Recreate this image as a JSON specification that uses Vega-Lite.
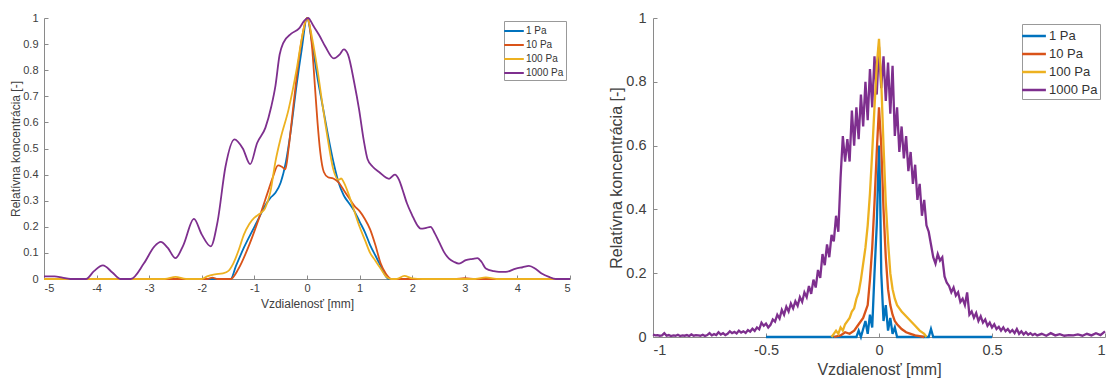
{
  "$schema": "https://vega.github.io/schema/vega-lite/v6.json",
  "padding": {"left": 9, "top": 10, "right": 4, "bottom": 0},
  "background": "white",
  "config": {
    "font": "Liberation Sans",
    "view": {"stroke": null},
    "axis": {
      "grid": false,
      "domainColor": "#8a8a8a",
      "tickColor": "#8a8a8a",
      "labelColor": "#404040",
      "titleColor": "#404040",
      "labelFont": "Liberation Sans",
      "titleFont": "Liberation Sans",
      "titleFontWeight": "normal",
      "tickSize": -4
    },
    "legend": {"labelFont": "Liberation Sans", "labelColor": "#333333"}
  },
  "spacing": 34,
  "resolve": {"scale": {"color": "independent", "x": "independent", "y": "independent"}, "legend": {"color": "independent"}},
  "datasets": {
    "left": [
      {"s":"1 Pa","x":-5,"y":0},{"s":"1 Pa","x":-1.45,"y":0},{"s":"1 Pa","x":-1.35,"y":0.05},{"s":"1 Pa","x":-1.2,"y":0.12},{"s":"1 Pa","x":-1.0,"y":0.2},{"s":"1 Pa","x":-0.9,"y":0.24},{"s":"1 Pa","x":-0.8,"y":0.28},{"s":"1 Pa","x":-0.7,"y":0.31},{"s":"1 Pa","x":-0.6,"y":0.33},{"s":"1 Pa","x":-0.5,"y":0.37},{"s":"1 Pa","x":-0.4,"y":0.45},{"s":"1 Pa","x":-0.3,"y":0.58},{"s":"1 Pa","x":-0.2,"y":0.74},{"s":"1 Pa","x":-0.1,"y":0.88},{"s":"1 Pa","x":0,"y":1},{"s":"1 Pa","x":0.1,"y":0.9},{"s":"1 Pa","x":0.2,"y":0.77},{"s":"1 Pa","x":0.3,"y":0.66},{"s":"1 Pa","x":0.4,"y":0.55},{"s":"1 Pa","x":0.5,"y":0.45},{"s":"1 Pa","x":0.6,"y":0.37},{"s":"1 Pa","x":0.7,"y":0.32},{"s":"1 Pa","x":0.8,"y":0.29},{"s":"1 Pa","x":0.9,"y":0.26},{"s":"1 Pa","x":1.0,"y":0.22},{"s":"1 Pa","x":1.1,"y":0.18},{"s":"1 Pa","x":1.2,"y":0.13},{"s":"1 Pa","x":1.3,"y":0.09},{"s":"1 Pa","x":1.4,"y":0.05},{"s":"1 Pa","x":1.5,"y":0.01},{"s":"1 Pa","x":1.55,"y":0},{"s":"1 Pa","x":5,"y":0},
      {"s":"10 Pa","x":-5,"y":0},{"s":"10 Pa","x":-1.9,"y":0},{"s":"10 Pa","x":-1.8,"y":0.005},{"s":"10 Pa","x":-1.7,"y":0},{"s":"10 Pa","x":-1.45,"y":0},{"s":"10 Pa","x":-1.3,"y":0.04},{"s":"10 Pa","x":-1.1,"y":0.13},{"s":"10 Pa","x":-0.9,"y":0.24},{"s":"10 Pa","x":-0.75,"y":0.33},{"s":"10 Pa","x":-0.65,"y":0.39},{"s":"10 Pa","x":-0.55,"y":0.435},{"s":"10 Pa","x":-0.48,"y":0.43},{"s":"10 Pa","x":-0.41,"y":0.42},{"s":"10 Pa","x":-0.35,"y":0.5},{"s":"10 Pa","x":-0.25,"y":0.68},{"s":"10 Pa","x":-0.15,"y":0.85},{"s":"10 Pa","x":-0.05,"y":0.97},{"s":"10 Pa","x":0,"y":1},{"s":"10 Pa","x":0.05,"y":0.97},{"s":"10 Pa","x":0.1,"y":0.88},{"s":"10 Pa","x":0.15,"y":0.74},{"s":"10 Pa","x":0.2,"y":0.6},{"s":"10 Pa","x":0.25,"y":0.49},{"s":"10 Pa","x":0.32,"y":0.41},{"s":"10 Pa","x":0.4,"y":0.39},{"s":"10 Pa","x":0.5,"y":0.385},{"s":"10 Pa","x":0.6,"y":0.37},{"s":"10 Pa","x":0.7,"y":0.34},{"s":"10 Pa","x":0.8,"y":0.31},{"s":"10 Pa","x":0.9,"y":0.28},{"s":"10 Pa","x":1.0,"y":0.26},{"s":"10 Pa","x":1.1,"y":0.23},{"s":"10 Pa","x":1.2,"y":0.19},{"s":"10 Pa","x":1.3,"y":0.13},{"s":"10 Pa","x":1.4,"y":0.06},{"s":"10 Pa","x":1.5,"y":0.02},{"s":"10 Pa","x":1.6,"y":0},{"s":"10 Pa","x":2.8,"y":0},{"s":"10 Pa","x":3.0,"y":0.003},{"s":"10 Pa","x":3.2,"y":0},{"s":"10 Pa","x":5,"y":0},
      {"s":"100 Pa","x":-5,"y":0},{"s":"100 Pa","x":-2.7,"y":0},{"s":"100 Pa","x":-2.5,"y":0.008},{"s":"100 Pa","x":-2.3,"y":0},{"s":"100 Pa","x":-2.0,"y":0},{"s":"100 Pa","x":-1.9,"y":0.01},{"s":"100 Pa","x":-1.75,"y":0.018},{"s":"100 Pa","x":-1.6,"y":0.022},{"s":"100 Pa","x":-1.5,"y":0.03},{"s":"100 Pa","x":-1.4,"y":0.06},{"s":"100 Pa","x":-1.3,"y":0.11},{"s":"100 Pa","x":-1.2,"y":0.17},{"s":"100 Pa","x":-1.1,"y":0.21},{"s":"100 Pa","x":-1.0,"y":0.235},{"s":"100 Pa","x":-0.9,"y":0.25},{"s":"100 Pa","x":-0.8,"y":0.27},{"s":"100 Pa","x":-0.7,"y":0.33},{"s":"100 Pa","x":-0.6,"y":0.45},{"s":"100 Pa","x":-0.5,"y":0.54},{"s":"100 Pa","x":-0.35,"y":0.65},{"s":"100 Pa","x":-0.2,"y":0.8},{"s":"100 Pa","x":-0.1,"y":0.92},{"s":"100 Pa","x":0,"y":1},{"s":"100 Pa","x":0.1,"y":0.92},{"s":"100 Pa","x":0.2,"y":0.8},{"s":"100 Pa","x":0.3,"y":0.66},{"s":"100 Pa","x":0.4,"y":0.53},{"s":"100 Pa","x":0.5,"y":0.42},{"s":"100 Pa","x":0.6,"y":0.38},{"s":"100 Pa","x":0.65,"y":0.385},{"s":"100 Pa","x":0.7,"y":0.37},{"s":"100 Pa","x":0.8,"y":0.32},{"s":"100 Pa","x":0.9,"y":0.26},{"s":"100 Pa","x":1.0,"y":0.2},{"s":"100 Pa","x":1.1,"y":0.15},{"s":"100 Pa","x":1.2,"y":0.1},{"s":"100 Pa","x":1.3,"y":0.07},{"s":"100 Pa","x":1.4,"y":0.04},{"s":"100 Pa","x":1.5,"y":0.01},{"s":"100 Pa","x":1.6,"y":0},{"s":"100 Pa","x":1.7,"y":0},{"s":"100 Pa","x":1.85,"y":0.012},{"s":"100 Pa","x":2.0,"y":0.002},{"s":"100 Pa","x":2.2,"y":0},{"s":"100 Pa","x":3.2,"y":0},{"s":"100 Pa","x":3.4,"y":0.006},{"s":"100 Pa","x":3.6,"y":0},{"s":"100 Pa","x":5,"y":0},
      {"s":"1000 Pa","x":-5,"y":0.01},{"s":"1000 Pa","x":-4.8,"y":0.01},{"s":"1000 Pa","x":-4.65,"y":0.005},{"s":"1000 Pa","x":-4.5,"y":0},{"s":"1000 Pa","x":-4.2,"y":0},{"s":"1000 Pa","x":-4.05,"y":0.03},{"s":"1000 Pa","x":-3.88,"y":0.052},{"s":"1000 Pa","x":-3.7,"y":0.025},{"s":"1000 Pa","x":-3.55,"y":0},{"s":"1000 Pa","x":-3.35,"y":0},{"s":"1000 Pa","x":-3.1,"y":0.06},{"s":"1000 Pa","x":-2.9,"y":0.125},{"s":"1000 Pa","x":-2.78,"y":0.142},{"s":"1000 Pa","x":-2.65,"y":0.12},{"s":"1000 Pa","x":-2.5,"y":0.08},{"s":"1000 Pa","x":-2.35,"y":0.13},{"s":"1000 Pa","x":-2.15,"y":0.23},{"s":"1000 Pa","x":-2.0,"y":0.17},{"s":"1000 Pa","x":-1.83,"y":0.125},{"s":"1000 Pa","x":-1.7,"y":0.22},{"s":"1000 Pa","x":-1.55,"y":0.43},{"s":"1000 Pa","x":-1.38,"y":0.535},{"s":"1000 Pa","x":-1.22,"y":0.5},{"s":"1000 Pa","x":-1.08,"y":0.44},{"s":"1000 Pa","x":-0.95,"y":0.52},{"s":"1000 Pa","x":-0.79,"y":0.58},{"s":"1000 Pa","x":-0.68,"y":0.66},{"s":"1000 Pa","x":-0.6,"y":0.74},{"s":"1000 Pa","x":-0.52,"y":0.86},{"s":"1000 Pa","x":-0.45,"y":0.905},{"s":"1000 Pa","x":-0.3,"y":0.94},{"s":"1000 Pa","x":-0.15,"y":0.96},{"s":"1000 Pa","x":-0.05,"y":0.99},{"s":"1000 Pa","x":0.02,"y":1},{"s":"1000 Pa","x":0.12,"y":0.97},{"s":"1000 Pa","x":0.23,"y":0.935},{"s":"1000 Pa","x":0.35,"y":0.89},{"s":"1000 Pa","x":0.51,"y":0.845},{"s":"1000 Pa","x":0.62,"y":0.86},{"s":"1000 Pa","x":0.7,"y":0.88},{"s":"1000 Pa","x":0.78,"y":0.86},{"s":"1000 Pa","x":0.9,"y":0.75},{"s":"1000 Pa","x":0.99,"y":0.65},{"s":"1000 Pa","x":1.08,"y":0.53},{"s":"1000 Pa","x":1.15,"y":0.46},{"s":"1000 Pa","x":1.25,"y":0.43},{"s":"1000 Pa","x":1.37,"y":0.41},{"s":"1000 Pa","x":1.56,"y":0.384},{"s":"1000 Pa","x":1.67,"y":0.4},{"s":"1000 Pa","x":1.75,"y":0.38},{"s":"1000 Pa","x":1.81,"y":0.346},{"s":"1000 Pa","x":1.9,"y":0.29},{"s":"1000 Pa","x":2.0,"y":0.244},{"s":"1000 Pa","x":2.1,"y":0.205},{"s":"1000 Pa","x":2.16,"y":0.193},{"s":"1000 Pa","x":2.25,"y":0.195},{"s":"1000 Pa","x":2.35,"y":0.2},{"s":"1000 Pa","x":2.43,"y":0.175},{"s":"1000 Pa","x":2.51,"y":0.142},{"s":"1000 Pa","x":2.6,"y":0.105},{"s":"1000 Pa","x":2.7,"y":0.078},{"s":"1000 Pa","x":2.8,"y":0.065},{"s":"1000 Pa","x":2.89,"y":0.059},{"s":"1000 Pa","x":3.02,"y":0.072},{"s":"1000 Pa","x":3.15,"y":0.077},{"s":"1000 Pa","x":3.24,"y":0.08},{"s":"1000 Pa","x":3.32,"y":0.065},{"s":"1000 Pa","x":3.4,"y":0.04},{"s":"1000 Pa","x":3.55,"y":0.03},{"s":"1000 Pa","x":3.65,"y":0.027},{"s":"1000 Pa","x":3.78,"y":0.027},{"s":"1000 Pa","x":3.97,"y":0.04},{"s":"1000 Pa","x":4.1,"y":0.045},{"s":"1000 Pa","x":4.22,"y":0.05},{"s":"1000 Pa","x":4.35,"y":0.038},{"s":"1000 Pa","x":4.47,"y":0.02},{"s":"1000 Pa","x":4.6,"y":0.008},{"s":"1000 Pa","x":4.73,"y":0},{"s":"1000 Pa","x":5,"y":0}
    ],
    "right": [
      {"s":"1000 Pa","x":-1.00,"y":0.008},{"s":"1000 Pa","x":-0.99,"y":0.005},{"s":"1000 Pa","x":-0.98,"y":0.006},{"s":"1000 Pa","x":-0.97,"y":0.004},{"s":"1000 Pa","x":-0.96,"y":0.005},{"s":"1000 Pa","x":-0.95,"y":0.012},{"s":"1000 Pa","x":-0.94,"y":0.004},{"s":"1000 Pa","x":-0.93,"y":0.006},{"s":"1000 Pa","x":-0.92,"y":0.003},{"s":"1000 Pa","x":-0.91,"y":0.005},{"s":"1000 Pa","x":-0.90,"y":0.004},{"s":"1000 Pa","x":-0.89,"y":0.007},{"s":"1000 Pa","x":-0.88,"y":0.003},{"s":"1000 Pa","x":-0.87,"y":0.005},{"s":"1000 Pa","x":-0.86,"y":0.004},{"s":"1000 Pa","x":-0.85,"y":0.006},{"s":"1000 Pa","x":-0.84,"y":0.003},{"s":"1000 Pa","x":-0.83,"y":0.008},{"s":"1000 Pa","x":-0.82,"y":0.004},{"s":"1000 Pa","x":-0.81,"y":0.006},{"s":"1000 Pa","x":-0.80,"y":0.005},{"s":"1000 Pa","x":-0.79,"y":0.004},{"s":"1000 Pa","x":-0.78,"y":0.007},{"s":"1000 Pa","x":-0.77,"y":0.003},{"s":"1000 Pa","x":-0.76,"y":0.006},{"s":"1000 Pa","x":-0.75,"y":0.012},{"s":"1000 Pa","x":-0.74,"y":0.005},{"s":"1000 Pa","x":-0.73,"y":0.009},{"s":"1000 Pa","x":-0.72,"y":0.006},{"s":"1000 Pa","x":-0.71,"y":0.015},{"s":"1000 Pa","x":-0.70,"y":0.008},{"s":"1000 Pa","x":-0.69,"y":0.012},{"s":"1000 Pa","x":-0.68,"y":0.006},{"s":"1000 Pa","x":-0.67,"y":0.010},{"s":"1000 Pa","x":-0.66,"y":0.018},{"s":"1000 Pa","x":-0.65,"y":0.012},{"s":"1000 Pa","x":-0.64,"y":0.016},{"s":"1000 Pa","x":-0.63,"y":0.011},{"s":"1000 Pa","x":-0.62,"y":0.020},{"s":"1000 Pa","x":-0.61,"y":0.014},{"s":"1000 Pa","x":-0.60,"y":0.018},{"s":"1000 Pa","x":-0.59,"y":0.013},{"s":"1000 Pa","x":-0.58,"y":0.022},{"s":"1000 Pa","x":-0.57,"y":0.017},{"s":"1000 Pa","x":-0.56,"y":0.026},{"s":"1000 Pa","x":-0.55,"y":0.019},{"s":"1000 Pa","x":-0.54,"y":0.030},{"s":"1000 Pa","x":-0.53,"y":0.024},{"s":"1000 Pa","x":-0.52,"y":0.045},{"s":"1000 Pa","x":-0.51,"y":0.035},{"s":"1000 Pa","x":-0.50,"y":0.042},{"s":"1000 Pa","x":-0.49,"y":0.030},{"s":"1000 Pa","x":-0.48,"y":0.038},{"s":"1000 Pa","x":-0.47,"y":0.055},{"s":"1000 Pa","x":-0.46,"y":0.048},{"s":"1000 Pa","x":-0.45,"y":0.070},{"s":"1000 Pa","x":-0.44,"y":0.058},{"s":"1000 Pa","x":-0.43,"y":0.085},{"s":"1000 Pa","x":-0.42,"y":0.070},{"s":"1000 Pa","x":-0.41,"y":0.095},{"s":"1000 Pa","x":-0.40,"y":0.080},{"s":"1000 Pa","x":-0.39,"y":0.105},{"s":"1000 Pa","x":-0.38,"y":0.090},{"s":"1000 Pa","x":-0.37,"y":0.112},{"s":"1000 Pa","x":-0.36,"y":0.098},{"s":"1000 Pa","x":-0.35,"y":0.125},{"s":"1000 Pa","x":-0.34,"y":0.110},{"s":"1000 Pa","x":-0.33,"y":0.140},{"s":"1000 Pa","x":-0.32,"y":0.125},{"s":"1000 Pa","x":-0.31,"y":0.160},{"s":"1000 Pa","x":-0.30,"y":0.135},{"s":"1000 Pa","x":-0.29,"y":0.180},{"s":"1000 Pa","x":-0.28,"y":0.155},{"s":"1000 Pa","x":-0.27,"y":0.210},{"s":"1000 Pa","x":-0.26,"y":0.185},{"s":"1000 Pa","x":-0.25,"y":0.260},{"s":"1000 Pa","x":-0.24,"y":0.225},{"s":"1000 Pa","x":-0.23,"y":0.290},{"s":"1000 Pa","x":-0.22,"y":0.250},{"s":"1000 Pa","x":-0.21,"y":0.320},{"s":"1000 Pa","x":-0.20,"y":0.300},{"s":"1000 Pa","x":-0.19,"y":0.380},{"s":"1000 Pa","x":-0.18,"y":0.330},{"s":"1000 Pa","x":-0.17,"y":0.500},{"s":"1000 Pa","x":-0.16,"y":0.630},{"s":"1000 Pa","x":-0.15,"y":0.550},{"s":"1000 Pa","x":-0.14,"y":0.620},{"s":"1000 Pa","x":-0.13,"y":0.550},{"s":"1000 Pa","x":-0.12,"y":0.710},{"s":"1000 Pa","x":-0.11,"y":0.600},{"s":"1000 Pa","x":-0.10,"y":0.720},{"s":"1000 Pa","x":-0.09,"y":0.620},{"s":"1000 Pa","x":-0.08,"y":0.760},{"s":"1000 Pa","x":-0.07,"y":0.660},{"s":"1000 Pa","x":-0.06,"y":0.800},{"s":"1000 Pa","x":-0.05,"y":0.680},{"s":"1000 Pa","x":-0.04,"y":0.840},{"s":"1000 Pa","x":-0.03,"y":0.720},{"s":"1000 Pa","x":-0.02,"y":0.880},{"s":"1000 Pa","x":-0.01,"y":0.760},{"s":"1000 Pa","x":0.00,"y":0.910},{"s":"1000 Pa","x":0.01,"y":0.780},{"s":"1000 Pa","x":0.02,"y":0.880},{"s":"1000 Pa","x":0.03,"y":0.740},{"s":"1000 Pa","x":0.04,"y":0.860},{"s":"1000 Pa","x":0.05,"y":0.700},{"s":"1000 Pa","x":0.06,"y":0.850},{"s":"1000 Pa","x":0.07,"y":0.630},{"s":"1000 Pa","x":0.08,"y":0.720},{"s":"1000 Pa","x":0.09,"y":0.580},{"s":"1000 Pa","x":0.10,"y":0.660},{"s":"1000 Pa","x":0.11,"y":0.560},{"s":"1000 Pa","x":0.12,"y":0.630},{"s":"1000 Pa","x":0.13,"y":0.520},{"s":"1000 Pa","x":0.14,"y":0.580},{"s":"1000 Pa","x":0.15,"y":0.480},{"s":"1000 Pa","x":0.16,"y":0.540},{"s":"1000 Pa","x":0.17,"y":0.430},{"s":"1000 Pa","x":0.18,"y":0.480},{"s":"1000 Pa","x":0.19,"y":0.380},{"s":"1000 Pa","x":0.20,"y":0.430},{"s":"1000 Pa","x":0.21,"y":0.350},{"s":"1000 Pa","x":0.22,"y":0.330},{"s":"1000 Pa","x":0.23,"y":0.290},{"s":"1000 Pa","x":0.24,"y":0.250},{"s":"1000 Pa","x":0.25,"y":0.230},{"s":"1000 Pa","x":0.26,"y":0.260},{"s":"1000 Pa","x":0.27,"y":0.240},{"s":"1000 Pa","x":0.28,"y":0.250},{"s":"1000 Pa","x":0.29,"y":0.190},{"s":"1000 Pa","x":0.30,"y":0.170},{"s":"1000 Pa","x":0.31,"y":0.160},{"s":"1000 Pa","x":0.32,"y":0.140},{"s":"1000 Pa","x":0.33,"y":0.155},{"s":"1000 Pa","x":0.34,"y":0.130},{"s":"1000 Pa","x":0.35,"y":0.140},{"s":"1000 Pa","x":0.36,"y":0.110},{"s":"1000 Pa","x":0.37,"y":0.120},{"s":"1000 Pa","x":0.38,"y":0.100},{"s":"1000 Pa","x":0.39,"y":0.140},{"s":"1000 Pa","x":0.40,"y":0.070},{"s":"1000 Pa","x":0.41,"y":0.080},{"s":"1000 Pa","x":0.42,"y":0.060},{"s":"1000 Pa","x":0.43,"y":0.075},{"s":"1000 Pa","x":0.44,"y":0.050},{"s":"1000 Pa","x":0.45,"y":0.065},{"s":"1000 Pa","x":0.46,"y":0.045},{"s":"1000 Pa","x":0.47,"y":0.055},{"s":"1000 Pa","x":0.48,"y":0.035},{"s":"1000 Pa","x":0.49,"y":0.045},{"s":"1000 Pa","x":0.50,"y":0.030},{"s":"1000 Pa","x":0.51,"y":0.040},{"s":"1000 Pa","x":0.52,"y":0.025},{"s":"1000 Pa","x":0.53,"y":0.032},{"s":"1000 Pa","x":0.54,"y":0.020},{"s":"1000 Pa","x":0.55,"y":0.030},{"s":"1000 Pa","x":0.56,"y":0.018},{"s":"1000 Pa","x":0.57,"y":0.025},{"s":"1000 Pa","x":0.58,"y":0.015},{"s":"1000 Pa","x":0.59,"y":0.022},{"s":"1000 Pa","x":0.60,"y":0.012},{"s":"1000 Pa","x":0.61,"y":0.025},{"s":"1000 Pa","x":0.62,"y":0.010},{"s":"1000 Pa","x":0.63,"y":0.018},{"s":"1000 Pa","x":0.64,"y":0.008},{"s":"1000 Pa","x":0.65,"y":0.015},{"s":"1000 Pa","x":0.66,"y":0.007},{"s":"1000 Pa","x":0.67,"y":0.012},{"s":"1000 Pa","x":0.68,"y":0.006},{"s":"1000 Pa","x":0.69,"y":0.010},{"s":"1000 Pa","x":0.70,"y":0.005},{"s":"1000 Pa","x":0.72,"y":0.010},{"s":"1000 Pa","x":0.74,"y":0.004},{"s":"1000 Pa","x":0.76,"y":0.012},{"s":"1000 Pa","x":0.78,"y":0.005},{"s":"1000 Pa","x":0.80,"y":0.009},{"s":"1000 Pa","x":0.82,"y":0.004},{"s":"1000 Pa","x":0.84,"y":0.006},{"s":"1000 Pa","x":0.86,"y":0.005},{"s":"1000 Pa","x":0.88,"y":0.008},{"s":"1000 Pa","x":0.90,"y":0.004},{"s":"1000 Pa","x":0.92,"y":0.010},{"s":"1000 Pa","x":0.94,"y":0.005},{"s":"1000 Pa","x":0.96,"y":0.012},{"s":"1000 Pa","x":0.98,"y":0.006},{"s":"1000 Pa","x":1.00,"y":0.018},
      {"s":"1 Pa","x":-0.5,"y":0},{"s":"1 Pa","x":-0.1,"y":0},{"s":"1 Pa","x":-0.09,"y":0.02},{"s":"1 Pa","x":-0.08,"y":0},{"s":"1 Pa","x":-0.06,"y":0.05},{"s":"1 Pa","x":-0.05,"y":0.01},{"s":"1 Pa","x":-0.04,"y":0.07},{"s":"1 Pa","x":-0.03,"y":0.03},{"s":"1 Pa","x":-0.02,"y":0.2},{"s":"1 Pa","x":-0.01,"y":0.35},{"s":"1 Pa","x":0,"y":0.6},{"s":"1 Pa","x":0.005,"y":0.45},{"s":"1 Pa","x":0.01,"y":0.2},{"s":"1 Pa","x":0.02,"y":0.05},{"s":"1 Pa","x":0.03,"y":0.1},{"s":"1 Pa","x":0.04,"y":0.02},{"s":"1 Pa","x":0.05,"y":0.06},{"s":"1 Pa","x":0.06,"y":0.01},{"s":"1 Pa","x":0.07,"y":0.03},{"s":"1 Pa","x":0.08,"y":0},{"s":"1 Pa","x":0.22,"y":0},{"s":"1 Pa","x":0.23,"y":0.025},{"s":"1 Pa","x":0.24,"y":0},{"s":"1 Pa","x":0.5,"y":0},
      {"s":"10 Pa","x":-0.2,"y":0},{"s":"10 Pa","x":-0.17,"y":0.005},{"s":"10 Pa","x":-0.15,"y":0.015},{"s":"10 Pa","x":-0.13,"y":0.01},{"s":"10 Pa","x":-0.11,"y":0.02},{"s":"10 Pa","x":-0.09,"y":0.04},{"s":"10 Pa","x":-0.07,"y":0.06},{"s":"10 Pa","x":-0.05,"y":0.1},{"s":"10 Pa","x":-0.04,"y":0.18},{"s":"10 Pa","x":-0.03,"y":0.28},{"s":"10 Pa","x":-0.02,"y":0.42},{"s":"10 Pa","x":-0.01,"y":0.58},{"s":"10 Pa","x":0,"y":0.72},{"s":"10 Pa","x":0.01,"y":0.6},{"s":"10 Pa","x":0.02,"y":0.4},{"s":"10 Pa","x":0.03,"y":0.25},{"s":"10 Pa","x":0.04,"y":0.15},{"s":"10 Pa","x":0.05,"y":0.1},{"s":"10 Pa","x":0.06,"y":0.07},{"s":"10 Pa","x":0.07,"y":0.05},{"s":"10 Pa","x":0.08,"y":0.04},{"s":"10 Pa","x":0.1,"y":0.025},{"s":"10 Pa","x":0.12,"y":0.015},{"s":"10 Pa","x":0.14,"y":0.01},{"s":"10 Pa","x":0.16,"y":0.005},{"s":"10 Pa","x":0.18,"y":0.003},{"s":"10 Pa","x":0.2,"y":0},
      {"s":"100 Pa","x":-0.21,"y":0},{"s":"100 Pa","x":-0.2,"y":0.01},{"s":"100 Pa","x":-0.19,"y":0.02},{"s":"100 Pa","x":-0.18,"y":0.01},{"s":"100 Pa","x":-0.17,"y":0.03},{"s":"100 Pa","x":-0.16,"y":0.02},{"s":"100 Pa","x":-0.15,"y":0.04},{"s":"100 Pa","x":-0.14,"y":0.05},{"s":"100 Pa","x":-0.13,"y":0.06},{"s":"100 Pa","x":-0.12,"y":0.08},{"s":"100 Pa","x":-0.11,"y":0.09},{"s":"100 Pa","x":-0.1,"y":0.12},{"s":"100 Pa","x":-0.09,"y":0.14},{"s":"100 Pa","x":-0.08,"y":0.18},{"s":"100 Pa","x":-0.07,"y":0.23},{"s":"100 Pa","x":-0.06,"y":0.28},{"s":"100 Pa","x":-0.05,"y":0.35},{"s":"100 Pa","x":-0.04,"y":0.45},{"s":"100 Pa","x":-0.03,"y":0.58},{"s":"100 Pa","x":-0.02,"y":0.72},{"s":"100 Pa","x":-0.01,"y":0.85},{"s":"100 Pa","x":0,"y":0.935},{"s":"100 Pa","x":0.01,"y":0.8},{"s":"100 Pa","x":0.02,"y":0.6},{"s":"100 Pa","x":0.03,"y":0.42},{"s":"100 Pa","x":0.04,"y":0.3},{"s":"100 Pa","x":0.05,"y":0.2},{"s":"100 Pa","x":0.06,"y":0.15},{"s":"100 Pa","x":0.07,"y":0.12},{"s":"100 Pa","x":0.08,"y":0.1},{"s":"100 Pa","x":0.09,"y":0.09},{"s":"100 Pa","x":0.1,"y":0.08},{"s":"100 Pa","x":0.12,"y":0.065},{"s":"100 Pa","x":0.14,"y":0.05},{"s":"100 Pa","x":0.16,"y":0.035},{"s":"100 Pa","x":0.18,"y":0.02},{"s":"100 Pa","x":0.2,"y":0.01},{"s":"100 Pa","x":0.21,"y":0}
    ]
  },
  "hconcat": [
    {
      "width": 526,
      "height": 261,
      "data": {"name": "left"},
      "mark": {"type": "line", "interpolate": "monotone", "strokeWidth": 1.8},
      "encoding": {
        "x": {"field": "x", "type": "quantitative", "scale": {"domain": [-5, 5], "nice": false},
          "axis": {"values": [-5,-4,-3,-2,-1,0,1,2,3,4,5], "labelExpr": "toString(datum.value)", "title": "Vzdialenosť [mm]", "labelFontSize": 11, "titleFontSize": 12, "labelPadding": 7, "titlePadding": 5}},
        "y": {"field": "y", "type": "quantitative", "scale": {"domain": [0, 1], "nice": false},
          "axis": {"values": [0,0.1,0.2,0.3,0.4,0.5,0.6,0.7,0.8,0.9,1], "labelExpr": "toString(datum.value)", "title": "Relatívna koncentrácia [-]", "labelFontSize": 11, "titleFontSize": 12, "labelPadding": 10, "titlePadding": 0}},
        "color": {"field": "s", "type": "nominal",
          "scale": {"domain": ["1 Pa", "10 Pa", "100 Pa", "1000 Pa"], "range": ["#0072BD", "#D95319", "#EDB120", "#7E2F8E"]},
          "legend": {"title": null, "orient": "none", "legendX": 460, "legendY": 3, "symbolType": "M-1.4,0H1.4", "symbolSize": 196, "symbolStrokeWidth": 2, "labelFontSize": 10, "strokeColor": "#999999", "fillColor": "white", "padding": 2, "rowPadding": 1, "labelOffset": 4}}
      }
    },
    {
      "width": 452,
      "height": 319,
      "data": {"name": "right"},
      "mark": {"type": "line", "strokeWidth": 2.3},
      "encoding": {
        "x": {"field": "x", "type": "quantitative", "scale": {"domain": [-1, 1], "nice": false},
          "axis": {"values": [-1,-0.5,0,0.5,1], "labelExpr": "toString(datum.value)", "title": "Vzdialenosť [mm]", "labelFontSize": 14.5, "titleFontSize": 16, "labelPadding": 10, "titlePadding": 5}},
        "y": {"field": "y", "type": "quantitative", "scale": {"domain": [0, 1], "nice": false},
          "axis": {"values": [0,0.2,0.4,0.6,0.8,1], "labelExpr": "toString(datum.value)", "title": "Relatívna koncentrácia [-]", "labelFontSize": 14.5, "titleFontSize": 16, "labelPadding": 11, "titlePadding": 1}},
        "color": {"field": "s", "type": "nominal",
          "scale": {"domain": ["1 Pa", "10 Pa", "100 Pa", "1000 Pa"], "range": ["#0072BD", "#D95319", "#EDB120", "#7E2F8E"]},
          "legend": {"title": null, "orient": "none", "legendX": 369, "legendY": 6, "symbolType": "M-1.4,0H1.4", "symbolSize": 289, "symbolStrokeWidth": 2.5, "labelFontSize": 13, "strokeColor": "#999999", "fillColor": "white", "padding": 2, "rowPadding": 1, "labelOffset": 5}}
      }
    }
  ]
}
